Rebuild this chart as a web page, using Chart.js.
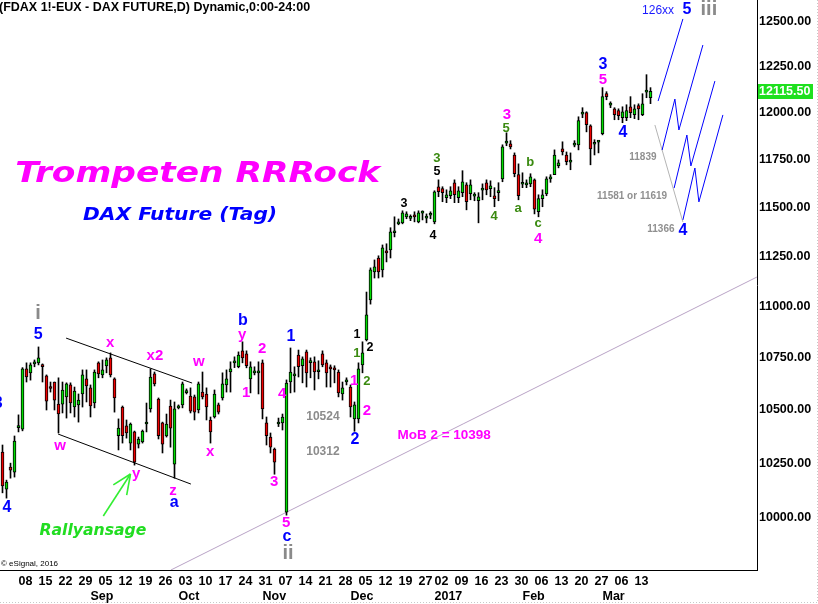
<!DOCTYPE html>
<html><head><meta charset="utf-8">
<script src="https://cdn.jsdelivr.net/npm/chart.js@4.4.1/dist/chart.umd.min.js"></script>
<style>html,body{margin:0;padding:0;background:#fff}#wrap{width:818px;height:604px;position:relative}</style>
</head><body><div id="wrap"><canvas id="c" width="818" height="604"></canvas></div>
<script>
// ---------- data ----------
const dates = [
'2016-08-02','2016-08-03','2016-08-04','2016-08-05','2016-08-08','2016-08-09','2016-08-10','2016-08-11','2016-08-12','2016-08-15','2016-08-16','2016-08-17','2016-08-18','2016-08-19','2016-08-22','2016-08-23','2016-08-24','2016-08-25','2016-08-26','2016-08-29','2016-08-30','2016-08-31',
'2016-09-01','2016-09-02','2016-09-05','2016-09-06','2016-09-07','2016-09-08','2016-09-09','2016-09-12','2016-09-13','2016-09-14','2016-09-15','2016-09-16','2016-09-19','2016-09-20','2016-09-21','2016-09-22','2016-09-23','2016-09-26','2016-09-27','2016-09-28','2016-09-29','2016-09-30',
'2016-10-03','2016-10-04','2016-10-05','2016-10-06','2016-10-07','2016-10-10','2016-10-11','2016-10-12','2016-10-13','2016-10-14','2016-10-17','2016-10-18','2016-10-19','2016-10-20','2016-10-21','2016-10-24','2016-10-25','2016-10-26','2016-10-27','2016-10-28','2016-10-31',
'2016-11-01','2016-11-02','2016-11-03','2016-11-04','2016-11-07','2016-11-08','2016-11-09','2016-11-10','2016-11-11','2016-11-14','2016-11-15','2016-11-16','2016-11-17','2016-11-18','2016-11-21','2016-11-22','2016-11-23','2016-11-24','2016-11-25','2016-11-28','2016-11-29','2016-11-30',
'2016-12-01','2016-12-02','2016-12-05','2016-12-06','2016-12-07','2016-12-08','2016-12-09','2016-12-12','2016-12-13','2016-12-14','2016-12-15','2016-12-16','2016-12-19','2016-12-20','2016-12-21','2016-12-22','2016-12-23','2016-12-27','2016-12-28','2016-12-29','2016-12-30',
'2017-01-02','2017-01-03','2017-01-04','2017-01-05','2017-01-06','2017-01-09','2017-01-10','2017-01-11','2017-01-12','2017-01-13','2017-01-16','2017-01-17','2017-01-18','2017-01-19','2017-01-20','2017-01-23','2017-01-24','2017-01-25','2017-01-26','2017-01-27','2017-01-30','2017-01-31',
'2017-02-01','2017-02-02','2017-02-03','2017-02-06','2017-02-07','2017-02-08','2017-02-09','2017-02-10','2017-02-13','2017-02-14','2017-02-15','2017-02-16','2017-02-17','2017-02-20','2017-02-21','2017-02-22','2017-02-23','2017-02-24','2017-02-27','2017-02-28',
'2017-03-01','2017-03-02','2017-03-03','2017-03-06','2017-03-07','2017-03-08','2017-03-09','2017-03-10','2017-03-13','2017-03-14','2017-03-15','2017-03-16','2017-03-17'];

const opens = [10301,10131,10232,10209,10415,10408,10694,10675,10718,10723,
10712,10660,10608,10631,10526,10526,10560,10617,10512,10522,
10574,10646,10603,10531,10723,10665,10708,10747,10646,10378,
10512,10423,10343,10395,10338,10348,10432,10503,10670,10550,
10437,10376,10517,10245,10508,10522,10580,10564,10560,10498,
10583,10574,10451,10465,10522,10555,10617,10679,10723,10704,
10781,10766,10646,10675,10675,10723,10437,10371,10315,10432,
10437,10027,10631,10660,10761,10709,10776,10724,10728,10680,
10766,10723,10699,10699,10679,10574,10631,10607,10456,10456,
10713,10834,11031,11171,11241,11181,11277,11282,11369,11415,
11420,11451,11443,11461,11425,11470,11444,11459,11425,11607,
11597,11550,11560,11628,11550,11576,11617,11571,11558,11534,
11589,11628,11597,11560,11576,11648,11837,11833,11774,11670,
11620,11617,11622,11643,11477,11545,11570,11648,11670,11717,
11806,11774,11736,11826,11828,11992,12000,11930,11831,11842,
11887,12103,12041,12021,12011,11973,11973,12032,11989,12038,
11989,12112,12081];

const highs = [10334,10172,10250,10376,10475,10700,10723,10723,10737,10800,
10718,10665,10631,10631,10651,10631,10627,10627,10607,10574,
10689,10689,10617,10689,10728,10737,10747,10771,10651,10456,
10517,10451,10437,10399,10371,10404,10531,10694,10679,10555,
10441,10479,10545,10536,10522,10631,10598,10603,10569,10631,
10679,10603,10465,10593,10531,10675,10689,10728,10752,10776,
10825,10781,10728,10704,10728,10737,10465,10390,10320,10460,
10479,10641,10795,10704,10785,10752,10785,10747,10752,10733,
10781,10737,10713,10709,10689,10631,10651,10617,10536,10723,
10825,11070,11191,11231,11252,11307,11313,11395,11451,11440,
11482,11477,11461,11477,11482,11482,11466,11477,11586,11643,
11607,11591,11607,11643,11607,11691,11628,11643,11576,11576,
11622,11643,11638,11602,11628,11828,11892,11850,11785,11727,
11680,11643,11675,11648,11565,11591,11659,11670,11801,11748,
11844,11790,11785,11850,11978,12027,12005,11935,11855,11850,
12136,12114,12059,12027,12021,12032,12043,12087,12043,12048,
12103,12207,12136];

const lows = [10114,10090,10181,10186,10395,10400,10631,10640,10704,10713,
10631,10498,10583,10498,10390,10484,10460,10484,10465,10441,
10512,10536,10465,10508,10651,10651,10675,10655,10488,10311,
10343,10366,10311,10241,10320,10343,10395,10488,10612,10362,
10297,10371,10324,10181,10503,10508,10574,10484,10451,10484,
10550,10451,10343,10460,10479,10545,10583,10583,10700,10699,
10723,10699,10579,10665,10574,10456,10334,10297,10199,10420,
10404,10013,10579,10583,10655,10627,10607,10651,10593,10646,
10704,10607,10607,10627,10560,10545,10617,10465,10398,10437,
10675,10829,11010,11140,11140,11145,11221,11241,11348,11410,
11415,11441,11431,11425,11420,11435,11420,11441,11415,11555,
11529,11524,11545,11524,11524,11555,11487,11539,11534,11420,
11539,11565,11555,11503,11534,11633,11823,11806,11659,11539,
11602,11602,11607,11466,11451,11503,11560,11630,11670,11706,
11774,11722,11696,11817,11801,11973,11897,11722,11774,11785,
11881,12070,12027,11962,11962,11946,11957,11973,11968,11962,
11984,12081,12049];

const closes = [10145,10163,10218,10352,10425,10694,10655,10713,10722,10747,
10705,10540,10600,10545,10479,10593,10622,10531,10588,10545,
10665,10612,10517,10679,10670,10689,10737,10665,10555,10413,
10378,10390,10432,10254,10362,10399,10440,10655,10622,10378,
10338,10432,10413,10503,10517,10622,10586,10493,10488,10622,
10560,10512,10395,10574,10488,10622,10646,10694,10733,10761,
10747,10709,10704,10683,10683,10503,10378,10324,10254,10440,
10465,10626,10679,10670,10704,10742,10675,10732,10679,10688,
10713,10675,10694,10689,10579,10603,10641,10512,10522,10694,
10771,10957,11181,11196,11171,11292,11267,11374,11379,11425,
11472,11466,11449,11451,11472,11474,11448,11463,11581,11581,
11576,11565,11586,11565,11586,11633,11529,11617,11562,11555,
11593,11591,11612,11545,11586,11817,11841,11817,11675,11560,
11624,11628,11659,11490,11545,11565,11648,11652,11774,11732,
11790,11738,11740,11830,11957,11996,11935,11806,11835,11846,
12087,12087,12045,11989,11984,12005,12011,12000,12021,12021,
12048,12116,12115.5];

const lastPrice = 12115.5;

const weekTicks = ['2016-08-08','2016-08-15','2016-08-22','2016-08-29','2016-09-05','2016-09-12','2016-09-19','2016-09-26',
'2016-10-03','2016-10-10','2016-10-17','2016-10-24','2016-10-31','2016-11-07','2016-11-14','2016-11-21','2016-11-28',
'2016-12-05','2016-12-12','2016-12-19','2016-12-27','2017-01-02','2017-01-09','2017-01-16','2017-01-23','2017-01-30',
'2017-02-06','2017-02-13','2017-02-20','2017-02-27','2017-03-06','2017-03-13'];
const monthTicks = [['2016-09-01','Sep'],['2016-10-03','Oct'],['2016-11-01','Nov'],['2016-12-01','Dec'],
['2017-01-02','2017'],['2017-02-01','Feb'],['2017-03-01','Mar']];
const priceTicks = [10000,10250,10500,10750,11000,11250,11500,11750,12000,12250,12500];

// wave counts and notes: [text, bar index, price, style]
const waveLabels = [
 ['3',-1.1,10530,'B'],['4',1.1,10045,'B'],['i',8.9,10966,'S'],['5',8.9,10858,'B'],
 ['x',26.9,10819,'M'],['w',14.4,10329,'M'],['x2',38.1,10756,'M'],['y',33.4,10200,'M'],
 ['z',42.6,10122,'M'],['a',42.9,10068,'B'],['w',49.1,10727,'M'],['x',51.9,10301,'M'],
 ['b',60.1,10927,'B'],['y',59.9,10858,'M'],['1',60.9,10578,'M'],['2',64.9,10790,'M'],
 ['3',67.9,10163,'M'],['4',69.9,10574,'M'],['1',72.1,10848,'B'],['5',70.9,9978,'M'],
 ['c',71.1,9915,'B'],['ii',71.4,9844,'S'],['10524',80.1,10465,'N'],['10312',80.1,10301,'N'],
 ['1',87.9,10636,'M'],['2',91.1,10493,'M'],['2',88.1,10357,'B'],['1',88.6,10858,'K'],
 ['1',88.6,10770,'G'],['2',91.9,10795,'K'],['2',91.1,10636,'G'],['MoB 2 = 10398',110.4,10380,'MB'],
 ['3',100.4,11522,'K'],['4',107.6,11353,'K'],['3',108.6,11758,'G'],['5',108.6,11684,'K'],
 ['4',122.9,11455,'G'],['3',126.1,11988,'M'],['5',125.9,11918,'G'],['b',131.9,11737,'G'],
 ['a',128.9,11496,'G'],['c',133.9,11419,'G'],['4',133.9,11337,'M'],['3',150.1,12260,'B'],
 ['5',150.1,12178,'M'],['4',155.1,11891,'B'],['11839',160.1,11763,'n'],['11581 or 11619',157.4,11559,'n'],
 ['11366',164.6,11388,'n'],['4',170.1,11378,'B'],['126xx',163.9,12562,'Bt'],['5',171.1,12568,'B'],
 ['iii',176.6,12568,'S']
];
// big captions: [text, bar index (centre), baseline price, width in bar units, style]
const captions = [
 ['Trompeten RRRock',48.8,11632,91.25,'T1'],
 ['DAX Future (Tag)',44.4,11435,48.5,'T2'],
 ['Rallyansage',22.6,9924,26.75,'T3']
];
// drawn lines: arrays of [bar index, price]
const channelUpper = [[15.9,10843],[47.4,10626]];
const channelLower = [[13.9,10385],[47.1,10154]];
const trendLine = [[42.1,9769],[188.6,11145]];
const projA = [[163.9,12063],[170.1,12517]];
const projB = [[164.9,11800],[168.1,12074],[169.1,11907],[175.1,12371]];
const projC = [[167.9,11600],[171.1,11880],[172.1,11716],[178.1,12172]];
const projD = [[170.1,11435],[173.1,11705],[174.1,11528],[180.1,11988]];
const greyPath = [[163.1,11934],[170.1,11424]];
const rallyArrows = [[[25.2,10009],[32,10200]],[[27.7,10150],[32,10200]],[[31.05,10104],[32,10200]]];

// ---------- chart ----------
const FONT = "'Liberation Sans', Arial, sans-serif";
const styles = {
 B:{font:`bold 16px ${FONT}`, color:'#0000ff'},
 M:{font:`bold 15px ${FONT}`, color:'#ff00ff'},
 K:{font:`bold 12.5px ${FONT}`, color:'#000000'},
 G:{font:`bold 13px ${FONT}`, color:'#3a8a10'},
 S:{font:`bold 20px ${FONT}`, color:'#8a8a8a'},
 N:{font:`bold 12px ${FONT}`, color:'#8c8c8c'},
 n:{font:`bold 10px ${FONT}`, color:'#909090'},
 MB:{font:`bold 13.5px ${FONT}`, color:'#ff00ff'},
 Bt:{font:`12px ${FONT}`, color:'#1a1aff'},
 T1:{font:`italic bold 29px 'DejaVu Sans'`, color:'#ff00ff'},
 T2:{font:`italic bold 18.5px 'DejaVu Sans'`, color:'#0000ff'},
 T3:{font:`italic bold 15.5px 'DejaVu Sans'`, color:'#22dd22'}
};

const xTickMap = {};
weekTicks.forEach(d => { xTickMap[dates.indexOf(d)] = [d.slice(8), '']; });
monthTicks.forEach(([d,m]) => { const i = dates.indexOf(d); if (xTickMap[i]) xTickMap[i][1] = m; else xTickMap[i] = ['', m]; });
const xTickIdx = Object.keys(xTickMap).map(Number).sort((a,b)=>a-b);

const bodyData = opens.map((o,i)=>({x:i, y:[o, closes[i]]}));
const wickData = lows.map((l,i)=>({x:i, y:[l, highs[i]]}));
const bodyColors = opens.map((o,i)=> closes[i] >= o ? '#00dd00' : '#ee0000');

const annot = {
 id:'annot',
 beforeDatasetsDraw(chart){
  const {ctx, chartArea:a, scales:{x,y}} = chart;
  const P = ([i,p]) => [x.getPixelForValue(i), y.getPixelForValue(p)];
  const poly = (pts,color,w) => { ctx.beginPath(); pts.forEach((pt,k)=>{const [px,py]=P(pt); k?ctx.lineTo(px,py):ctx.moveTo(px,py);}); ctx.strokeStyle=color; ctx.lineWidth=w; ctx.stroke(); };
  ctx.save();
  ctx.beginPath(); ctx.rect(a.left,a.top,a.right-a.left,a.bottom-a.top); ctx.clip();
  poly(trendLine,'#b9a3c6',1);
  poly(channelUpper,'#000',1);
  poly(channelLower,'#000',1);
  poly(greyPath,'#b4b4b4',1);
  [projA,projB,projC,projD].forEach(p=>poly(p,'#0000ff',1));
  rallyArrows.forEach(p=>poly(p,'#33ee33',1.6));
  ctx.restore();
 },
 afterDatasetsDraw(chart){
  const {ctx, scales:{x,y}} = chart;
  ctx.save();
  ctx.textAlign='center'; ctx.textBaseline='middle';
  waveLabels.forEach(([t,i,p,s])=>{
   ctx.font = styles[s].font; ctx.fillStyle = styles[s].color;
   ctx.fillText(t, x.getPixelForValue(i), y.getPixelForValue(p));
  });
  captions.forEach(([t,i,p,wUnits,s])=>{
   const cx = x.getPixelForValue(i), by = y.getPixelForValue(p);
   const target = x.getPixelForValue(i + wUnits/2) - x.getPixelForValue(i - wUnits/2);
   ctx.save(); ctx.font = styles[s].font; ctx.fillStyle = styles[s].color;
   const w = ctx.measureText(t).width;
   ctx.translate(cx, by); ctx.scale(target/w, 1);
   ctx.textAlign='center'; ctx.textBaseline='alphabetic'; ctx.fillText(t,0,0);
   ctx.restore();
  });
  ctx.restore();
 },
 afterDraw(chart){
  const {ctx, chartArea:a, scales:{y}} = chart;
  ctx.save();
  const yy = Math.round(y.getPixelForValue(lastPrice));
  ctx.fillStyle='#1ee01e'; ctx.fillRect(a.right+1, yy-7, 55, 15);
  ctx.fillStyle='#fff'; ctx.font=`bold 12.5px ${FONT}`; ctx.textAlign='left'; ctx.textBaseline='middle';
  ctx.fillText(lastPrice.toFixed(2), a.right+2, yy+0.5);
  ctx.fillStyle='#000'; ctx.font=`bold 12.5px ${FONT}`; ctx.textBaseline='alphabetic';
  ctx.fillText('(FDAX 1!-EUX - DAX FUTURE,D) Dynamic,0:00-24:00', -1, 11);
  ctx.font=`8px ${FONT}`; ctx.fillText('\u00a9 eSignal, 2016', 1, 566);
  ctx.strokeStyle='#c8c8c8'; ctx.setLineDash([1,2]); ctx.lineWidth=1;
  ctx.beginPath(); ctx.moveTo(817.5,0); ctx.lineTo(817.5,603); ctx.moveTo(0,602.5); ctx.lineTo(818,602.5); ctx.stroke();
  ctx.restore();
 }
};

new Chart(document.getElementById('c'), {
 type:'bar',
 data:{ datasets:[
  {data:bodyData, backgroundColor:bodyColors, borderColor:'#000', borderWidth:1, borderSkipped:false,
   barThickness:3, grouped:false, minBarLength:2, order:0},
  {data:wickData, backgroundColor:'#000', borderWidth:0, barThickness:1, grouped:false, order:1}
 ]},
 options:{
  responsive:false, animation:false, events:[],
  layout:{padding:0},
  plugins:{legend:{display:false}, tooltip:{enabled:false}, title:{display:false}},
  scales:{
   x:{type:'linear', min:-0.625, max:188.625, offset:false, bounds:'data',
      grid:{display:false, drawTicks:false}, border:{display:true, color:'#000', width:1},
      ticks:{autoSkip:false, maxRotation:0, minRotation:0, align:'start', padding:4, color:'#000',
             font:{family:FONT, size:12.5, weight:'bold', lineHeight:1.2},
             callback:(v)=> xTickMap[v] ?? ''},
      afterBuildTicks:(s)=>{ s.ticks = xTickIdx.map(v=>({value:v})); },
      afterFit:(s)=>{ s.height = 34; s.paddingLeft = 0; s.paddingRight = 0; }
   },
   y:{type:'logarithmic', position:'right', min:9769, max:12624, bounds:'data',
      grid:{display:false, drawTicks:false}, border:{display:true, color:'#000', width:1},
      ticks:{autoSkip:false, padding:2, color:'#000', font:{family:FONT, size:12.5, weight:'bold'},
             callback:(v)=> Number(v).toFixed(2)},
      afterBuildTicks:(s)=>{ s.ticks = priceTicks.map(v=>({value:v})); },
      afterFit:(s)=>{ s.width = 61; s.paddingTop = 0; s.paddingBottom = 0; }
   }
  }
 },
 plugins:[annot]
});
</script></body></html>
